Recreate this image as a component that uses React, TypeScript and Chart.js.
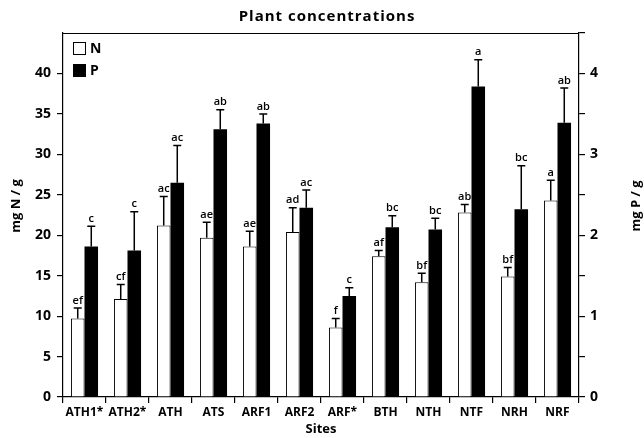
import React, { useEffect, useRef } from "react";
import { Chart, registerables } from "chart.js";

Chart.register(...registerables);

const categories = ["ATH1*", "ATH2*", "ATH", "ATS", "ARF1", "ARF2", "ARF*", "BTH", "NTH", "NTF", "NRH", "NRF"];
const nValues = [9.7, 12.1, 21.2, 19.7, 18.6, 20.4, 8.6, 17.4, 14.2, 22.8, 14.9, 24.3];
const nErrors = [1.3, 1.8, 3.6, 1.9, 1.9, 3.0, 1.1, 0.7, 1.1, 1.0, 1.1, 2.5];
const nLetters = ["ef", "cf", "ac", "ae", "ae", "ad", "f", "af", "bf", "ab", "bf", "a"];
const pValues = [1.86, 1.81, 2.65, 3.31, 3.38, 2.34, 1.25, 2.1, 2.07, 3.84, 2.32, 3.39];
const pErrors = [0.25, 0.48, 0.46, 0.24, 0.12, 0.22, 0.1, 0.14, 0.14, 0.33, 0.54, 0.43];
const pLetters = ["c", "c", "ac", "ab", "ab", "ac", "c", "bc", "bc", "a", "bc", "ab"];
const leftTicks = [0, 5, 10, 15, 20, 25, 30, 35, 40];
const rightTicks = [0, 1, 2, 3, 4];
const titleText = "Plant concentrations";
const leftTitle = "mg N / g";
const rightTitle = "mg P / g";

const FONT = "'Open Sans', 'DejaVu Sans', sans-serif";

const extrasPlugin = {
  id: "extras",
  afterDatasetsDraw(chart: any) {
    const ctx = chart.ctx;
    const errs = [nErrors, pErrors];
    const letters = [nLetters, pLetters];
    ctx.save();
    chart.data.datasets.forEach((ds: any, di: number) => {
      const meta = chart.getDatasetMeta(di);
      const scale = chart.scales[ds.yAxisID];
      meta.data.forEach((el: any, i: number) => {
        const v = ds.data[i];
        const top = scale.getPixelForValue(v + errs[di][i]);
        ctx.strokeStyle = "#000";
        ctx.lineWidth = 1.5;
        ctx.beginPath();
        ctx.moveTo(el.x, el.y);
        ctx.lineTo(el.x, top);
        ctx.moveTo(el.x - 4, top);
        ctx.lineTo(el.x + 4, top);
        ctx.stroke();
        ctx.fillStyle = "#000";
        ctx.font = `600 11px ${FONT}`;
        ctx.textAlign = "center";
        ctx.textBaseline = "bottom";
        ctx.fillText(letters[di][i], el.x, top - 2);
      });
    });
    const a = chart.chartArea;
    // top frame line
    ctx.lineWidth = 1.2;
    ctx.strokeStyle = "#000";
    ctx.beginPath();
    ctx.moveTo(a.left, a.top + 0.5);
    ctx.lineTo(a.right, a.top + 0.5);
    ctx.stroke();
    // legend
    const lx = a.left + 10;
    ctx.lineWidth = 1;
    ctx.strokeRect(lx + 0.5, a.top + 9.5, 12, 12);
    ctx.fillRect(lx, a.top + 31, 13, 13);
    ctx.font = `bold 14px ${FONT}`;
    ctx.textAlign = "left";
    ctx.textBaseline = "middle";
    ctx.fillText("N", lx + 17, a.top + 16);
    ctx.fillText("P", lx + 17, a.top + 38);
    // chart title
    ctx.font = `bold 15px ${FONT}`;
    (ctx as any).letterSpacing = "1px";
    ctx.textAlign = "center";
    ctx.textBaseline = "middle";
    ctx.fillText(titleText, 327, 17);
    (ctx as any).letterSpacing = "0px";
    // axis titles (both read bottom-to-top)
    ctx.font = `bold 13px ${FONT}`;
    const cy = 206;
    ctx.save();
    ctx.translate(16, cy);
    ctx.rotate(-Math.PI / 2);
    ctx.fillText(leftTitle, 0, 0);
    ctx.restore();
    ctx.save();
    ctx.translate(636, cy);
    ctx.rotate(-Math.PI / 2);
    ctx.fillText(rightTitle, 0, 0);
    ctx.restore();
    ctx.restore();
  },
};

export default function App() {
  const ref = useRef<HTMLCanvasElement>(null);
  useEffect(() => {
    document.body.style.margin = "0";
    const chart = new Chart(ref.current as HTMLCanvasElement, {
      type: "bar",
      data: {
        labels: categories,
        datasets: [
          {
            label: "N",
            data: nValues,
            yAxisID: "y",
            backgroundColor: "#fff",
            borderColor: "#000",
            borderWidth: 1,
            categoryPercentage: 0.63,
            barPercentage: 1,
          },
          {
            label: "P",
            data: pValues,
            yAxisID: "y1",
            backgroundColor: "#000",
            borderColor: "#000",
            borderWidth: 0,
            categoryPercentage: 0.63,
            barPercentage: 1,
          },
        ],
      },
      options: {
        animation: false,
        responsive: false,
        maintainAspectRatio: false,
        layout: { padding: { top: 33 } },
        plugins: {
          legend: { display: false },
          tooltip: { enabled: false },
          title: { display: false },
        },
        scales: {
          x: {
            grid: { display: true, drawOnChartArea: false, offset: true, tickLength: 6, color: "#000", lineWidth: 1.2 },
            border: { display: true, color: "#000", width: 1.2 },
            ticks: { color: "#000", padding: 2, font: { family: FONT, size: 12, weight: "bold" }, maxRotation: 0, autoSkip: false },
            title: { display: true, text: "Sites", color: "#000", padding: { top: 0, bottom: 1 }, font: { family: FONT, size: 13, weight: "bold" } },
            afterFit(s: any) { s.height = 41; },
          },
          y: {
            position: "left",
            min: 0,
            max: 45,
            afterBuildTicks(s: any) { s.ticks = leftTicks.map((v) => ({ value: v })); },
            grid: { display: true, drawOnChartArea: false, tickLength: 6, color: "#000", lineWidth: 1.2 },
            border: { display: true, color: "#000", width: 1.2 },
            ticks: { color: "#000", padding: 6, font: { family: FONT, size: 14, weight: "bold" } },
            afterFit(s: any) { s.width = 63; },
          },
          y1: {
            position: "right",
            min: 0,
            max: 4.5,
            afterBuildTicks(s: any) {
              const t: any[] = [];
              for (let v = 0; v <= 4.5; v += 0.5) t.push({ value: v });
              s.ticks = t;
            },
            grid: { display: true, drawOnChartArea: false, tickLength: 6, color: "#000", lineWidth: 1.2 },
            border: { display: true, color: "#000", width: 1.2 },
            ticks: {
              color: "#000",
              padding: 5,
              font: { family: FONT, size: 14, weight: "bold" },
              callback: (v: any) => (rightTicks.includes(Number(v)) ? String(v) : ""),
            },
            afterFit(s: any) { s.width = 65; },
          },
        },
      },
      plugins: [extrasPlugin],
    } as any);
    return () => chart.destroy();
  }, []);
  return <canvas ref={ref} width={644} height={438} style={{ display: "block" }} />;
}
